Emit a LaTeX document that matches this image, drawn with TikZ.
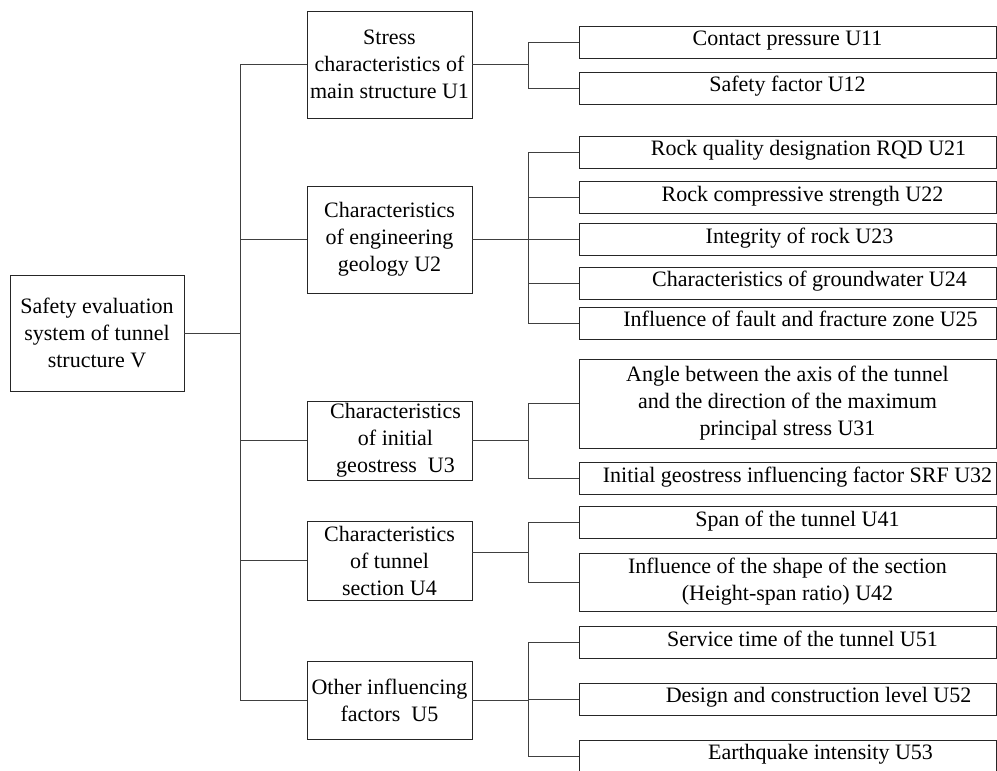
\documentclass[tikz,border=0pt]{standalone}
\usepackage{fontspec}
\setmainfont{Liberation Serif}

\begin{document}
\begin{tikzpicture}[x=1pt,y=-1pt,
    box/.style={draw=black!85,line width=0.9pt,inner sep=2pt,align=center,
      font=\fontsize{22}{27}\selectfont},
    factor/.style={box,minimum width=165pt},
    leaf/.style={box,minimum width=417pt,minimum height=32pt},
    oneline/.style={text height=15pt,text depth=7.5pt},
    link/.style={draw=black!75,line width=0.9pt}]
  \useasboundingbox (0,0) rectangle (997,771);

  % Goal on the left
  \node[box,minimum width=174pt,minimum height=116pt] (V) at (97,333)
    {Safety evaluation\\system of tunnel\\structure V};

  % First level factors
  \node[factor,minimum height=107pt] (U1) at (389.5,64.5)
    {Stress\\characteristics of\\main structure U1};
  \node[factor,minimum height=107pt] (U2) at (389.5,239.5)
    {Characteristics\\of engineering\\geology U2};
  \node[factor,minimum height=79pt] (U3) at (389.5,440.5)
    {\hspace{12pt}Characteristics\\\hspace{12pt}of initial\\\hspace{12pt}geostress\ \ U3};
  \node[factor,minimum height=79pt] (U4) at (389.5,560.5)
    {Characteristics\\of tunnel\\section U4};
  \node[factor,minimum height=78pt] (U5) at (389.5,700)
    {Other influencing\\factors\ \ U5};

  % Second level indexes
  \node[leaf,oneline] (U11) at (787.5,42) {Contact pressure U11};
  \node[leaf,oneline] (U12) at (787.5,88) {Safety factor U12};
  \node[leaf,oneline] (U21) at (787.5,152) {\hspace{42pt}Rock quality designation RQD U21};
  \node[leaf,oneline] (U22) at (787.5,197.5) {\hspace{30pt}Rock compressive strength U22};
  \node[leaf,oneline] (U23) at (787.5,239.5) {\hspace{24pt}Integrity of rock U23};
  \node[leaf,oneline] (U24) at (787.5,283) {\hspace{44pt}Characteristics of groundwater U24};
  \node[leaf,oneline] (U25) at (787.5,323) {\hspace{26pt}Influence of fault and fracture zone U25};
  \node[leaf,minimum height=89pt] (U31) at (787.5,403.5)
    {Angle between the axis of the tunnel\\and the direction of the maximum\\principal stress U31};
  \node[leaf,oneline] (U32) at (787.5,478.5) {\hspace{20pt}Initial geostress influencing factor SRF U32};
  \node[leaf,oneline] (U41) at (787.5,522.5) {\hspace{20pt}Span of the tunnel U41};
  \node[leaf,minimum height=58pt] (U42) at (787.5,582)
    {Influence of the shape of the section\\(Height-span ratio) U42};
  \node[leaf,oneline] (U51) at (787.5,642.5) {\hspace{30pt}Service time of the tunnel U51};
  \node[leaf,oneline] (U52) at (787.5,699) {\hspace{62pt}Design and construction level U52};
  \node[leaf,oneline] (U53) at (787.5,756) {\hspace{66pt}Earthquake intensity U53};

  % Trunk from the goal
  \coordinate (t) at (240,333);
  \coordinate (s) at (528,0);
  \draw[link] (V.east) -- (t);
  \draw[link] (t |- U1.west) -- (t |- U5.west);
  \draw[link] (t |- U1.west) -- (U1.west);
  \draw[link] (t |- U2.west) -- (U2.west);
  \draw[link] (t |- U3.west) -- (U3.west);
  \draw[link] (t |- U4.west) -- (U4.west);
  \draw[link] (t |- U5.west) -- (U5.west);

  % Branches to the indexes
  \draw[link] (U1.east) -- (s |- U1.east);
  \draw[link] (s |- U11.west) -- (s |- U12.west);
  \draw[link] (s |- U11.west) -- (U11.west);
  \draw[link] (s |- U12.west) -- (U12.west);

  \draw[link] (U2.east) -- (s |- U2.east);
  \draw[link] (s |- U21.west) -- (s |- U25.west);
  \draw[link] (s |- U21.west) -- (U21.west);
  \draw[link] (s |- U22.west) -- (U22.west);
  \draw[link] (s |- U23.west) -- (U23.west);
  \draw[link] (s |- U24.west) -- (U24.west);
  \draw[link] (s |- U25.west) -- (U25.west);

  \draw[link] (U3.east) -- (s |- U3.east);
  \draw[link] (s |- U31.west) -- (s |- U32.west);
  \draw[link] (s |- U31.west) -- (U31.west);
  \draw[link] (s |- U32.west) -- (U32.west);

  \coordinate (u4out) at ([yshift=8.5pt]U4.east);
  \draw[link] (u4out) -- (s |- u4out);
  \draw[link] (s |- U41.west) -- (s |- U42.west);
  \draw[link] (s |- U41.west) -- (U41.west);
  \draw[link] (s |- U42.west) -- (U42.west);

  \draw[link] (U5.east) -- (s |- U5.east);
  \draw[link] (s |- U51.west) -- (s |- U53.west);
  \draw[link] (s |- U51.west) -- (U51.west);
  \draw[link] (s |- U52.west) -- (U52.west);
  \draw[link] (s |- U53.west) -- (U53.west);
\end{tikzpicture}
\end{document}
